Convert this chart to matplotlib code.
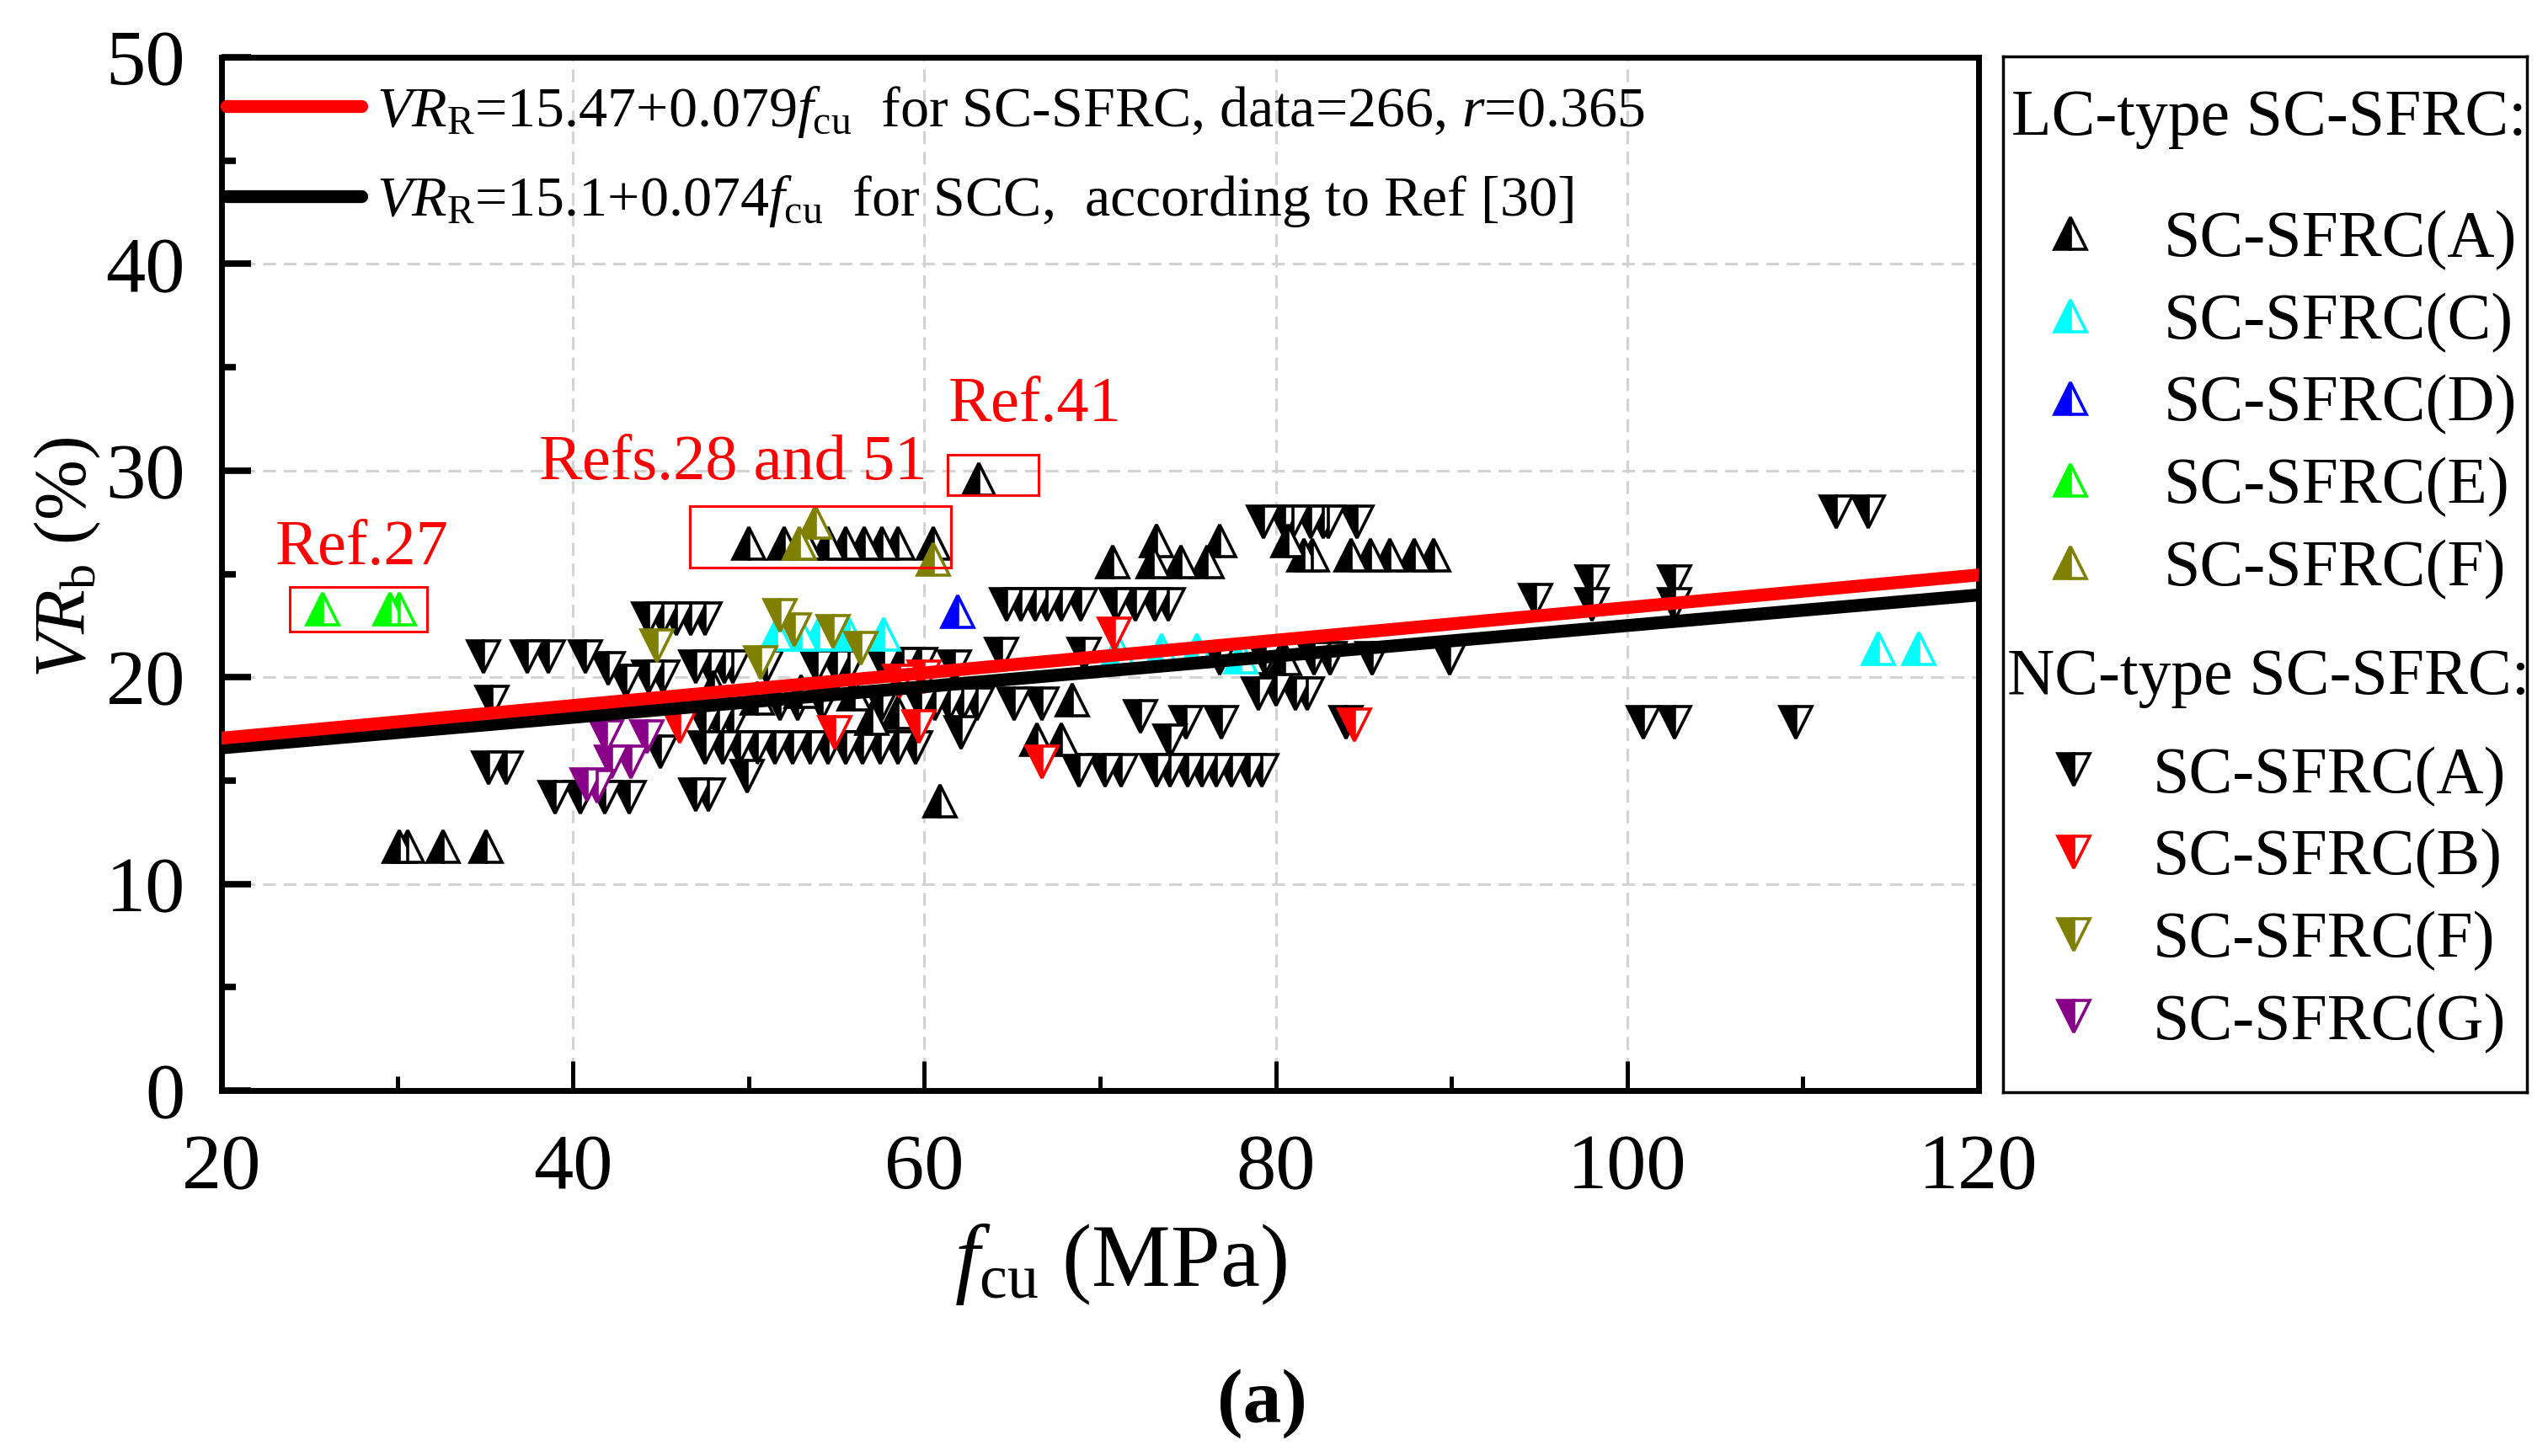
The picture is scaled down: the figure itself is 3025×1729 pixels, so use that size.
import numpy as np
import matplotlib
matplotlib.use("Agg")
import matplotlib.pyplot as plt
from matplotlib.patches import Rectangle

plt.rcParams['font.family'] = ['Liberation Serif', 'DejaVu Serif']
plt.rcParams['mathtext.fontset'] = 'custom'
plt.rcParams['mathtext.rm'] = 'Liberation Serif'
plt.rcParams['mathtext.it'] = 'Liberation Serif:italic'
plt.rcParams['mathtext.bf'] = 'Liberation Serif:bold'

# ---------------- data ----------------
# LC-type SC-SFRC (up triangles)
lc_a_x = [30.1, 30.6, 32.6, 35.05,
          50.0, 52.0, 53.2, 54.5, 55.5, 56.6, 57.6, 58.5, 60.5,
          63.1, 60.9,
          66.4, 67.8, 68.4,
          70.7, 73.2, 73.0, 74.6, 76.1, 76.8, 80.7, 81.6, 82.1,
          84.3, 85.4, 86.5, 87.9, 89.0,
          80.5, 48.0, 50.5, 53.0, 56.0, 57.0, 58.5]
lc_a_y = [11.8, 11.8, 11.8, 11.8,
          26.5, 26.5, 26.5, 26.5, 26.5, 26.5, 26.5, 26.5, 26.5,
          29.6, 14.0,
          17.0, 17.0, 18.9,
          25.6, 26.6, 25.6, 25.6, 25.6, 26.6, 26.6, 25.9, 25.9,
          25.9, 25.9, 25.9, 25.9, 25.9,
          20.9, 19.5, 19.0, 19.3, 19.2, 18.0, 18.3]
lc_c_x = [51.6, 53.0, 54.0, 55.7, 57.7, 71.0, 73.5, 75.5, 78.0, 114.3, 116.6]
lc_c_y = [22.1, 22.1, 22.1, 22.1, 22.1, 21.3, 21.3, 21.3, 21.0, 21.4, 21.4]
lc_d_x = [61.9]
lc_d_y = [23.2]
lc_e_x = [25.75, 29.6, 30.1]
lc_e_y = [23.3, 23.3, 23.3]
lc_f_x = [52.9, 53.8, 60.5]
lc_f_y = [26.5, 27.5, 25.7]

# NC-type SC-SFRC (down triangles)
nc_a_x = [34.9, 37.4, 38.6, 40.7, 35.4, 35.2, 36.2,
          39.0, 40.4, 41.8, 43.2, 47.0, 47.7, 49.9, 42.0, 43.0,
          44.3, 45.1, 45.9, 46.7, 47.5,
          47.0, 47.8, 48.6, 49.1, 51.0, 44.3, 45.1,
          53.9, 55.0, 55.7, 57.7, 58.8, 59.8, 61.7, 64.4,
          64.7, 65.5, 66.3, 67.0, 67.8, 68.9, 70.9, 72.0, 73.1, 73.9,
          51.8, 52.8, 54.2, 57.6, 59.8, 60.6, 61.4, 62.2, 63.0,
          47.5, 48.3, 49.1,
          47.5, 48.5, 49.5, 50.5, 51.5, 52.5, 53.5, 54.5, 55.5, 56.5, 57.5, 58.5, 59.5,
          45.0, 62.1, 65.1, 66.7, 69.1,
          79.3, 80.5, 81.0, 82.0, 82.7, 83.0, 84.6,
          76.8, 79.4, 82.2, 83.1, 85.5, 89.9,
          79.0, 80.0, 81.1, 81.8, 72.3, 74.9, 76.9, 74.0,
          68.8, 70.3, 71.2, 73.2, 74.0, 75.0, 75.8, 76.6, 77.5, 78.5, 79.2,
          84.0, 94.8, 98.0, 98.0, 102.7, 102.7,
          100.9, 102.7, 109.6, 111.9, 113.7]
nc_a_y = [21.0, 21.0, 21.0, 21.0, 18.8, 15.6, 15.6,
          14.2, 14.2, 14.2, 14.2, 14.3, 14.3, 15.2, 20.4, 19.8,
          22.8, 22.8, 22.8, 22.8, 22.8,
          20.5, 20.5, 20.5, 20.5, 20.5, 20.0, 20.0,
          20.5, 20.5, 20.5, 20.6, 20.6, 20.6, 20.5, 21.1,
          23.5, 23.5, 23.5, 23.5, 23.5, 23.5, 23.5, 23.5, 23.5, 23.5,
          18.7, 18.7, 18.7, 18.7, 18.7, 18.7, 18.7, 18.7, 18.7,
          17.8, 17.8, 17.8,
          16.6, 16.6, 16.6, 16.6, 16.6, 16.6, 16.6, 16.6, 16.6, 16.6, 16.6, 16.6, 16.6,
          16.4, 17.3, 18.7, 18.7, 21.1,
          27.5, 27.5, 27.5, 27.5, 27.5, 27.5, 27.5,
          20.9, 20.9, 20.9, 20.9, 20.9, 20.9,
          19.2, 19.4, 19.2, 19.2, 18.1, 17.8, 17.8, 16.9,
          15.5, 15.5, 15.5, 15.5, 15.5, 15.5, 15.5, 15.5, 15.5, 15.5, 15.5,
          17.8, 23.7, 24.6, 23.5, 24.6, 23.5,
          17.8, 17.8, 17.8, 28.0, 28.0]
nc_b_x = [46.1, 54.9, 59.7, 66.7, 58.6, 60.0, 70.8, 84.5]
nc_b_y = [17.6, 17.3, 17.6, 15.9, 19.8, 20.0, 22.1, 17.7]
nc_f_x = [44.8, 51.8, 52.6, 54.8, 56.4, 50.7]
nc_f_y = [21.5, 23.0, 22.3, 22.2, 21.4, 20.7]
nc_g_x = [41.9, 44.2, 42.2, 43.3, 40.8, 41.4]
nc_g_y = [17.1, 17.1, 15.9, 15.9, 14.8, 14.7]

# regression equations (intercept, slope)
fit_sfrc = (15.47, 0.079)
fit_scc = (15.1, 0.074)
x_range = [20, 120]

xticks = [20, 40, 60, 80, 100, 120]
yticks = [0, 10, 20, 30, 40, 50]

# ---------------- figure ----------------
W, H = 3025, 1729
fig = plt.figure(figsize=(W / 100, H / 100), dpi=100)
axL, axR, axT, axB = 263, 2349, 68, 1295
ax = fig.add_axes([axL / W, 1 - axB / H, (axR - axL) / W, (axB - axT) / H])

MS = 27
MEW = 2.6


def tri(x, y, marker, color, z=3):
    h, = ax.plot(x, y, linestyle='none', marker=marker, ms=MS, mew=MEW,
                 color=color, mfc=color, mec=color, mfcalt='white',
                 fillstyle='left', zorder=z)
    return h


h_nca = tri(nc_a_x, nc_a_y, 'v', 'black', 3)
h_lca = tri(lc_a_x, lc_a_y, '^', 'black', 3.1)
h_lcc = tri(lc_c_x, lc_c_y, '^', '#00FFFF', 3.2)
h_lcd = tri(lc_d_x, lc_d_y, '^', '#0000FF', 3.2)
h_lce = tri(lc_e_x, lc_e_y, '^', '#00FF00', 3.2)
h_ncb = tri(nc_b_x, nc_b_y, 'v', '#FF0000', 3.3)
h_ncf = tri(nc_f_x, nc_f_y, 'v', '#808000', 3.4)
h_lcf = tri(lc_f_x, lc_f_y, '^', '#808000', 3.4)
h_ncg = tri(nc_g_x, nc_g_y, 'v', '#880088', 3.4)

xr = np.array(x_range, dtype=float)
l_scc, = ax.plot(xr, fit_scc[0] + fit_scc[1] * xr, color='black', lw=11,
                 solid_capstyle='round', zorder=5)
l_sfrc, = ax.plot(xr, fit_sfrc[0] + fit_sfrc[1] * xr, color='#FF0000', lw=11,
                  solid_capstyle='round', zorder=6)

ax.set_xlim(20, 120)
ax.set_ylim(0, 50)
ax.set_xticks(xticks)
ax.set_xticks([30, 50, 70, 90, 110], minor=True)
ax.set_yticks(yticks)
ax.set_yticks([5, 15, 25, 35, 45], minor=True)
ax.set_xticklabels([str(v) for v in xticks])
ax.set_yticklabels([str(v) for v in yticks])
ax.tick_params(which='both', direction='in', top=False, right=False)
ax.tick_params(axis='x', which='major', length=25, width=3.6, labelsize=68, pad=37)
ax.tick_params(axis='x', which='minor', length=12, width=3.6)
ax.tick_params(axis='y', which='major', length=25, width=5.5, labelsize=68, pad=31)
ax.tick_params(axis='y', which='minor', length=12, width=5.5)
for s in ax.spines.values():
    s.set_linewidth(5)
ax.set_axisbelow(True)
ax.grid(True, which='major', color='#D3D3D3', linestyle=(0, (5, 3)), linewidth=2.2)

ax.set_xlabel(r'$f_{\rm cu}$ (MPa)', fontsize=76)
ax.xaxis.set_label_coords((1330 - axL) / (axR - axL), (axB - 1450) / (axB - axT))
ax.xaxis.label.set_va('top')
ax.set_ylabel(r'$VR_{\rm b}$ (%)', fontsize=62)
ax.yaxis.set_label_coords((122 - axL) / (axR - axL), (axB - 662) / (axB - axT))

# fit legend (upper left)
leg_fit = ax.legend([l_sfrc, l_scc],
                    [r'$VR_{\rm R}$=15.47+0.079$f_{\rm cu}$  for SC-SFRC, data=266, $r$=0.365',
                     r'$VR_{\rm R}$=15.1+0.074$f_{\rm cu}$  for SCC,  according to Ref [30]'],
                    loc='center left', bbox_to_anchor=(269 / W, 1 - 186 / H),
                    bbox_transform=fig.transFigure, frameon=False, fontsize=49,
                    handlelength=2.35, handletextpad=0.27, labelspacing=0.6,
                    borderpad=0, borderaxespad=0)
leg_fit.set_zorder(10)

# red annotations
ax.text(23.07, 25.47, 'Ref.27', color='#FF0000', fontsize=55, ha='left', va='baseline', zorder=8)
ax.text(38.07, 29.58, 'Refs.28 and 51', color='#FF0000', fontsize=55, ha='left', va='baseline', zorder=8)
ax.text(61.37, 32.40, 'Ref.41', color='#FF0000', fontsize=55, ha='left', va='baseline', zorder=8)
for (x0, x1, y0, y1) in [(23.9, 31.7, 22.2, 24.37), (46.65, 61.5, 25.3, 28.3), (61.3, 66.5, 28.8, 30.77)]:
    ax.add_patch(Rectangle((x0, y0), x1 - x0, y1 - y0, fill=False, ec='#FF0000', lw=2.2, zorder=7))

# right legend box
axl = fig.add_axes([2378 / W, 1 - 1297 / H, (3000 - 2378) / W, (1297 - 67) / H])
axl.set_xticks([])
axl.set_yticks([])
for s in axl.spines.values():
    s.set_linewidth(2.5)

fig.text(2388 / W, 1 - 160 / H, 'LC-type SC-SFRC:', fontsize=56, ha='left', va='baseline')
fig.text(2383 / W, 1 - 824 / H, 'NC-type SC-SFRC:', fontsize=56, ha='left', va='baseline')

leg_lc = axl.legend([h_lca, h_lcc, h_lcd, h_lce, h_lcf],
                    ['SC-SFRC(A)', 'SC-SFRC(C)', 'SC-SFRC(D)', 'SC-SFRC(E)', 'SC-SFRC(F)'],
                    loc='center left', bbox_to_anchor=(2418 / W, 1 - 481 / H),
                    bbox_transform=fig.transFigure, frameon=False, fontsize=56,
                    handlelength=1.04, handletextpad=0.9, labelspacing=0.34,
                    borderpad=0, borderaxespad=0, numpoints=1)
axl.add_artist(leg_lc)
leg_nc = axl.legend([h_nca, h_ncb, h_ncf, h_ncg],
                    ['SC-SFRC(A)', 'SC-SFRC(B)', 'SC-SFRC(F)', 'SC-SFRC(G)'],
                    loc='center left', bbox_to_anchor=(2422 / W, 1 - 1069 / H),
                    bbox_transform=fig.transFigure, frameon=False, fontsize=56,
                    handlelength=1.04, handletextpad=0.68, labelspacing=0.34,
                    borderpad=0, borderaxespad=0, numpoints=1)

fig.text(1498 / W, 1 - 1667 / H, '(a)', fontsize=66, fontweight='bold', ha='center', va='center')

fig.savefig('out.png', dpi=100)
